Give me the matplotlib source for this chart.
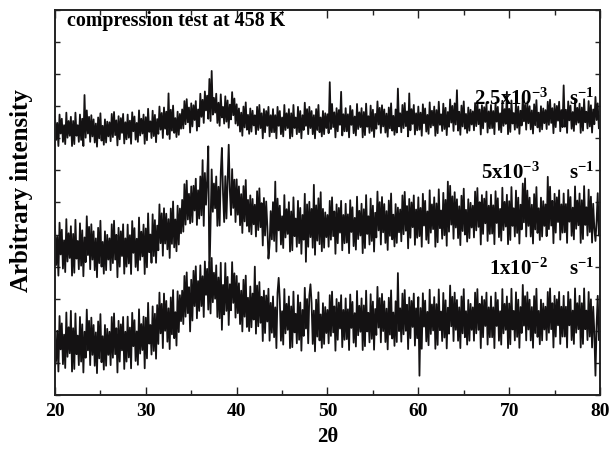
import numpy as np
import matplotlib
matplotlib.use("Agg")
import matplotlib.pyplot as plt
from matplotlib.ticker import MultipleLocator

plt.rcParams['font.family'] = ['Liberation Serif', 'DejaVu Serif']
plt.rcParams['font.weight'] = 'bold'
plt.rcParams['mathtext.fontset'] = 'custom'
plt.rcParams['mathtext.rm'] = 'Liberation Serif:bold'
plt.rcParams['mathtext.it'] = 'Liberation Serif:bold'
plt.rcParams['mathtext.bf'] = 'Liberation Serif:bold'

# scan grid (2theta, degrees), 0.125 deg step
two_theta = np.linspace(20, 80, 481)

# stacked patterns, arbitrary intensity units (one row = 2 degrees)
rate_2p5e3 = [
    867, 795, 848, 776, 874, 815, 861, 789, 841, 782, 880, 802, 854, 808, 867, 776,
    854, 782, 880, 808, 841, 789, 874, 795, 861, 776, 935, 802, 887, 815, 867, 789,
    872, 806, 859, 787, 846, 774, 865, 800, 878, 793, 839, 780, 859, 787, 852, 806,
    850, 791, 876, 804, 882, 810, 856, 778, 869, 797, 863, 817, 876, 784, 850, 797,
    874, 802, 855, 783, 881, 822, 868, 796, 848, 789, 887, 809, 861, 815, 874, 783,
    866, 794, 892, 820, 853, 801, 886, 807, 873, 788, 860, 814, 899, 827, 879, 801,
    896, 830, 883, 811, 940, 798, 889, 824, 902, 817, 863, 804, 883, 811, 876, 830,
    890, 831, 916, 844, 922, 850, 896, 818, 909, 837, 903, 857, 916, 824, 890, 837,
    939, 867, 920, 848, 946, 887, 933, 861, 985, 854, 1010, 874, 926, 880, 939, 848,
    911, 839, 937, 865, 898, 846, 931, 852, 918, 833, 905, 859, 944, 872, 924, 846,
    906, 840, 893, 821, 880, 808, 899, 834, 912, 827, 873, 814, 893, 821, 886, 840,
    872, 813, 898, 826, 904, 832, 878, 800, 891, 819, 885, 839, 898, 806, 872, 819,
    891, 819, 872, 800, 898, 839, 885, 813, 865, 806, 904, 826, 878, 832, 891, 800,
    878, 806, 904, 832, 865, 813, 898, 819, 885, 800, 872, 826, 911, 839, 891, 813,
    898, 832, 885, 813, 872, 800, 891, 826, 904, 819, 865, 806, 885, 813, 878, 832,
    875, 816, 975, 829, 907, 835, 881, 803, 894, 822, 888, 842, 945, 809, 875, 822,
    894, 822, 875, 803, 901, 842, 888, 816, 868, 809, 907, 829, 881, 835, 894, 803,
    882, 810, 908, 836, 869, 817, 902, 823, 889, 804, 876, 830, 915, 843, 895, 817,
    903, 837, 890, 818, 877, 805, 896, 831, 909, 824, 870, 811, 890, 818, 955, 837,
    878, 819, 904, 832, 910, 838, 884, 806, 940, 825, 891, 845, 904, 812, 878, 825,
    899, 827, 880, 808, 906, 847, 893, 821, 873, 814, 912, 834, 886, 840, 899, 808,
    888, 816, 914, 842, 875, 823, 908, 829, 895, 810, 882, 836, 921, 849, 901, 823,
    909, 843, 950, 824, 883, 811, 902, 837, 915, 830, 876, 817, 896, 824, 889, 843,
    884, 825, 910, 838, 916, 844, 890, 812, 903, 831, 897, 851, 910, 818, 884, 831,
    904, 832, 885, 813, 911, 852, 898, 826, 878, 819, 917, 839, 891, 845, 945, 813,
    892, 820, 918, 846, 879, 827, 912, 833, 899, 814, 886, 840, 925, 853, 905, 827,
    913, 847, 900, 828, 887, 815, 906, 841, 919, 834, 880, 821, 900, 828, 893, 847,
    888, 829, 914, 842, 920, 848, 894, 816, 907, 835, 901, 855, 914, 822, 888, 835,
    965, 836, 889, 817, 915, 856, 902, 830, 882, 823, 921, 843, 895, 849, 908, 817,
    896, 824, 922, 850, 883, 831, 916, 837, 903, 818, 890, 844, 929, 857, 909, 831,
    870,
]

rate_5e3 = [
    526, 405, 493, 372, 537, 438, 515, 394, 482, 383, 548, 416, 504, 427, 526, 372,
    502, 381, 546, 425, 480, 392, 535, 403, 513, 370, 491, 414, 557, 436, 524, 392,
    532, 422, 510, 389, 488, 367, 521, 411, 543, 400, 477, 378, 510, 389, 499, 422,
    488, 389, 532, 411, 543, 422, 499, 367, 521, 400, 510, 433, 532, 378, 488, 400,
    531, 410, 498, 377, 542, 443, 520, 399, 487, 388, 553, 421, 509, 432, 531, 377,
    519, 398, 566, 445, 500, 412, 563, 433, 545, 412, 528, 451, 594, 473, 566, 434,
    582, 472, 565, 454, 548, 427, 581, 471, 603, 460, 547, 448, 590, 469, 581, 504,
    608, 509, 657, 531, 668, 547, 627, 535, 650, 539, 652, 575, 674, 530, 638, 550,
    681, 560, 732, 527, 692, 593, 670, 775, 360, 538, 703, 571, 659, 582, 681, 527,
    649, 528, 693, 770, 627, 539, 682, 550, 660, 780, 638, 561, 704, 583, 671, 539,
    672, 562, 650, 529, 626, 505, 651, 541, 670, 527, 608, 509, 622, 501, 611, 532,
    593, 494, 635, 514, 644, 523, 598, 466, 614, 497, 603, 526, 425, 468, 573, 485,
    601, 480, 665, 447, 612, 513, 590, 469, 557, 458, 623, 491, 579, 502, 601, 447,
    572, 451, 616, 495, 550, 462, 605, 473, 583, 440, 561, 484, 627, 415, 594, 462,
    602, 492, 580, 459, 655, 437, 591, 481, 613, 470, 632, 448, 580, 459, 569, 492,
    561, 462, 605, 484, 616, 495, 572, 440, 594, 473, 583, 506, 605, 451, 561, 473,
    596, 475, 563, 442, 607, 508, 585, 464, 552, 453, 618, 486, 574, 497, 596, 442,
    579, 458, 623, 502, 557, 469, 612, 480, 590, 447, 568, 491, 634, 513, 601, 469,
    617, 507, 595, 474, 573, 452, 606, 496, 628, 485, 562, 463, 595, 474, 584, 507,
    578, 479, 622, 501, 633, 512, 589, 457, 611, 490, 600, 523, 622, 468, 578, 490,
    616, 495, 583, 462, 627, 528, 605, 484, 572, 473, 638, 506, 594, 517, 616, 462,
    597, 476, 641, 520, 575, 487, 630, 498, 608, 465, 665, 509, 652, 531, 619, 487,
    632, 522, 610, 489, 588, 467, 621, 511, 643, 500, 577, 478, 610, 489, 599, 522,
    590, 491, 634, 513, 645, 524, 601, 469, 623, 502, 612, 535, 634, 480, 590, 502,
    624, 503, 591, 470, 635, 536, 613, 492, 580, 481, 646, 514, 602, 525, 624, 470,
    604, 483, 648, 527, 582, 494, 637, 505, 615, 472, 593, 516, 659, 538, 675, 494,
    637, 527, 615, 494, 593, 472, 626, 516, 648, 505, 582, 483, 615, 494, 604, 527,
    594, 495, 680, 517, 649, 528, 605, 473, 627, 506, 616, 539, 638, 484, 594, 506,
    628, 507, 595, 474, 639, 540, 617, 496, 584, 485, 650, 518, 606, 529, 628, 474,
    607, 486, 651, 530, 585, 497, 640, 508, 618, 475, 596, 519, 480, 541, 629, 497,
    560,
]

rate_1e2 = [
    90, 107, 200, 73, 246, 142, 223, 96, 188, 84, 257, 119, 211, 130, 262, 73,
    208, 81, 254, 127, 185, 93, 243, 104, 220, 70, 197, 116, 266, 139, 231, 93,
    241, 125, 218, 91, 195, 68, 229, 114, 252, 102, 183, 79, 218, 91, 206, 125,
    197, 93, 243, 116, 254, 127, 208, 70, 231, 104, 220, 139, 243, 81, 197, 104,
    244, 117, 210, 83, 256, 152, 233, 106, 198, 94, 267, 129, 221, 140, 244, 83,
    241, 114, 287, 160, 218, 126, 276, 137, 253, 113, 280, 159, 319, 192, 284, 146,
    316, 200, 293, 166, 270, 143, 304, 189, 327, 177, 258, 154, 323, 196, 311, 230,
    325, 221, 371, 244, 382, 255, 336, 198, 359, 232, 387, 277, 401, 239, 355, 262,
    404, 277, 370, 243, 416, 312, 393, 266, 415, 254, 427, 289, 381, 300, 404, 243,
    366, 239, 412, 203, 343, 251, 411, 262, 368, 218, 345, 264, 414, 287, 379, 241,
    371, 255, 348, 221, 325, 198, 359, 244, 372, 212, 303, 199, 338, 211, 316, 235,
    400, 191, 341, 214, 352, 225, 306, 168, 325, 193, 310, 229, 331, 169, 287, 194,
    307, 180, 273, 146, 319, 365, 296, 169, 261, 157, 330, 192, 284, 203, 307, 146,
    276, 149, 322, 195, 253, 161, 311, 172, 288, 138, 265, 184, 334, 207, 299, 161,
    309, 345, 286, 159, 263, 136, 297, 182, 320, 170, 251, 147, 286, 159, 274, 193,
    265, 161, 311, 184, 322, 195, 276, 138, 299, 172, 288, 207, 311, 149, 265, 172,
    301, 174, 267, 140, 313, 209, 290, 163, 255, 151, 324, 186, 278, 197, 301, 140,
    279, 152, 325, 198, 256, 164, 314, 175, 291, 141, 268, 187, 337, 210, 302, 164,
    315, 199, 292, 165, 269, 142, 303, 188, 326, 176, 257, 153, 292, 165, 380, 199,
    270, 166, 316, 189, 327, 200, 281, 143, 304, 177, 293, 212, 316, 154, 270, 177,
    305, 60, 271, 144, 317, 213, 294, 167, 259, 155, 328, 190, 282, 201, 305, 144,
    283, 156, 329, 202, 260, 168, 318, 179, 295, 145, 272, 191, 341, 214, 306, 168,
    319, 203, 296, 169, 273, 146, 307, 192, 330, 180, 261, 157, 296, 169, 284, 203,
    273, 169, 319, 192, 330, 203, 284, 146, 307, 180, 296, 215, 319, 157, 273, 180,
    307, 180, 273, 146, 319, 215, 296, 169, 261, 157, 330, 192, 284, 203, 307, 146,
    285, 158, 331, 204, 262, 170, 320, 181, 297, 147, 274, 193, 343, 216, 308, 170,
    320, 204, 297, 170, 274, 147, 308, 193, 331, 181, 262, 158, 297, 170, 285, 204,
    275, 171, 321, 194, 332, 205, 286, 148, 309, 182, 298, 217, 321, 159, 275, 182,
    309, 182, 275, 148, 321, 217, 298, 171, 263, 159, 332, 194, 286, 205, 309, 148,
    286, 159, 332, 205, 263, 171, 321, 182, 298, 148, 275, 194, 60, 217, 309, 171,
    240,
]

series = [rate_2p5e3, rate_5e3, rate_1e2]
rate_labels = [r"2.5x10$^{-3}$", r"5x10$^{-3}$", r"1x10$^{-2}$"]
unit_label = r"s$^{-1}$"
title_text = "compression test at 458 K"
x_ticks = [20, 30, 40, 50, 60, 70, 80]

fig = plt.figure(figsize=(6.11, 4.55), dpi=100)
ax = fig.add_axes([0.090, 0.132, 0.892, 0.846])

for ys in series:
    ax.plot(two_theta[:len(ys)], ys, color='#141213', lw=1.3)

ax.set_xlim(20, 80)
ax.set_ylim(0, 1200)
ax.set_xticks(x_ticks)
ax.xaxis.set_minor_locator(MultipleLocator(5))
ax.yaxis.set_major_locator(MultipleLocator(100))
ax.set_yticklabels([])
ax.tick_params(axis='both', which='both', direction='in', top=True, right=True,
               width=1.0, color='#222222')
ax.tick_params(axis='x', which='major', length=6, labelsize=14, pad=6)
ax.tick_params(axis='x', which='minor', length=3.5)
ax.tick_params(axis='y', which='major', length=3.5)
for lab in ax.get_xticklabels():
    lab.set_fontweight('bold')
for sp in ax.spines.values():
    sp.set_linewidth(1.4)
    sp.set_color('#222222')

ax.set_xlabel(r"2θ", fontsize=15, fontweight='bold', labelpad=5)
ax.set_ylabel("Arbitrary intensity", fontsize=18, fontweight='bold')
ax.yaxis.set_label_coords(-0.040, 0.53)

ax.text(0.022, 0.971, title_text, transform=ax.transAxes, fontsize=14.4,
        fontweight='bold', va='center', ha='left')

label_y = [922, 692, 392]
label_xr = [74.3, 73.4, 74.3]
for lab, yv, xr in zip(rate_labels, label_y, label_xr):
    ax.text(xr, yv, lab, fontsize=15, fontweight='bold', ha='right', va='center')
    ax.text(76.6, yv, unit_label, fontsize=15, fontweight='bold', ha='left', va='center')

fig.savefig("out.png", dpi=100)
